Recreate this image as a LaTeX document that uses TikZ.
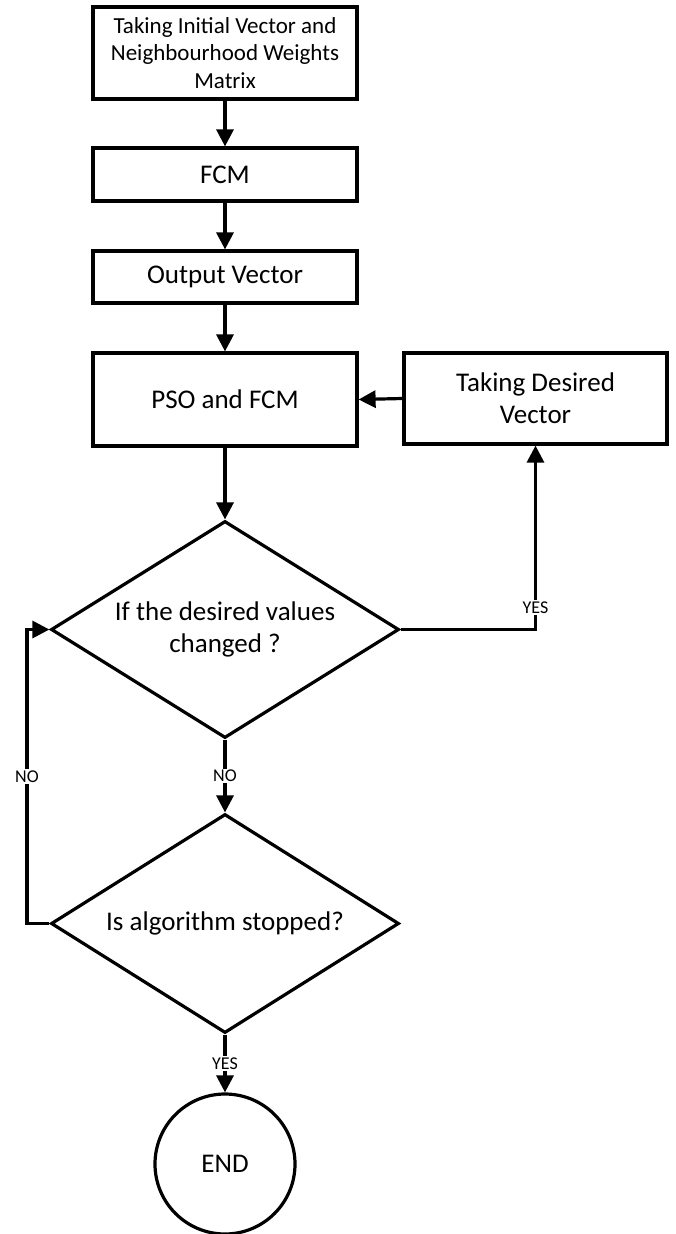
\documentclass[tikz,border=0pt]{standalone}
\usepackage{fontspec}
\setmainfont{Carlito}
\usetikzlibrary{arrows.meta,shapes.geometric}
\tikzset{
  base/.style={draw=black, line width=3.2pt, inner sep=0pt, align=center, font=\fontsize{27}{32}\selectfont},
  procbox/.style={base, rectangle, minimum width=264pt},
  decbox/.style={base, diamond, shape aspect=1.6, minimum width=348pt, minimum height=217pt},
  endcirc/.style={base, circle, minimum size=140pt},
  conn/.style={line width=3.2pt, -{Triangle[length=17pt,width=17pt]}},
  lbl/.style={fill=white, inner sep=1.5pt, font=\fontsize{18}{20}\selectfont}
}
\begin{document}
\begin{tikzpicture}[x=1pt,y=-1pt]
\useasboundingbox (0,0) rectangle (675,1234);
\node[procbox, minimum height=92pt, font=\fontsize{23}{27.5}\selectfont] (b1) at (225,53) {Taking Initial Vector and\\Neighbourhood Weights\\Matrix};
\node[procbox, minimum height=53pt] (b2) at (225,174.5) {FCM};
\node[procbox, minimum height=52pt] (b3) at (225,277) {Output Vector};
\node[procbox, minimum height=93pt] (b4) at (225,399.5) {PSO and FCM};
\node[procbox, minimum width=263pt, minimum height=91pt] (b5) at (535.5,398.5) {Taking Desired\\Vector};
\node[decbox] (d1) at (225,629.5) {If the desired values\\changed ?};
\node[decbox, minimum height=219pt] (d2) at (225,923.5) {Is algorithm stopped?};
\node[endcirc] (e) at (225,1164) {END};
\coordinate (loopA) at (27,923.5);
\coordinate (loopB) at (27,629.5);
\draw[conn] (b1.south) -- (b2.north);
\draw[conn] (b2.south) -- (b3.north);
\draw[conn] (b3.south) -- (b4.north);
\draw[conn] (b5.west) -- (b4.east);
\draw[conn] (b4.south) -- (d1.north);
\draw[conn] (d1.east) -| node[lbl, pos=0.56] {YES} (b5.south);
\draw[conn] (d1.south) -- node[lbl] {NO} (d2.north);
\draw[conn] (d2.west) -- (loopA) -- node[lbl] {NO} (loopB) -- (d1.west);
\draw[conn] (d2.south) -- node[lbl] {YES} (e.north);
\end{tikzpicture}
\end{document}
